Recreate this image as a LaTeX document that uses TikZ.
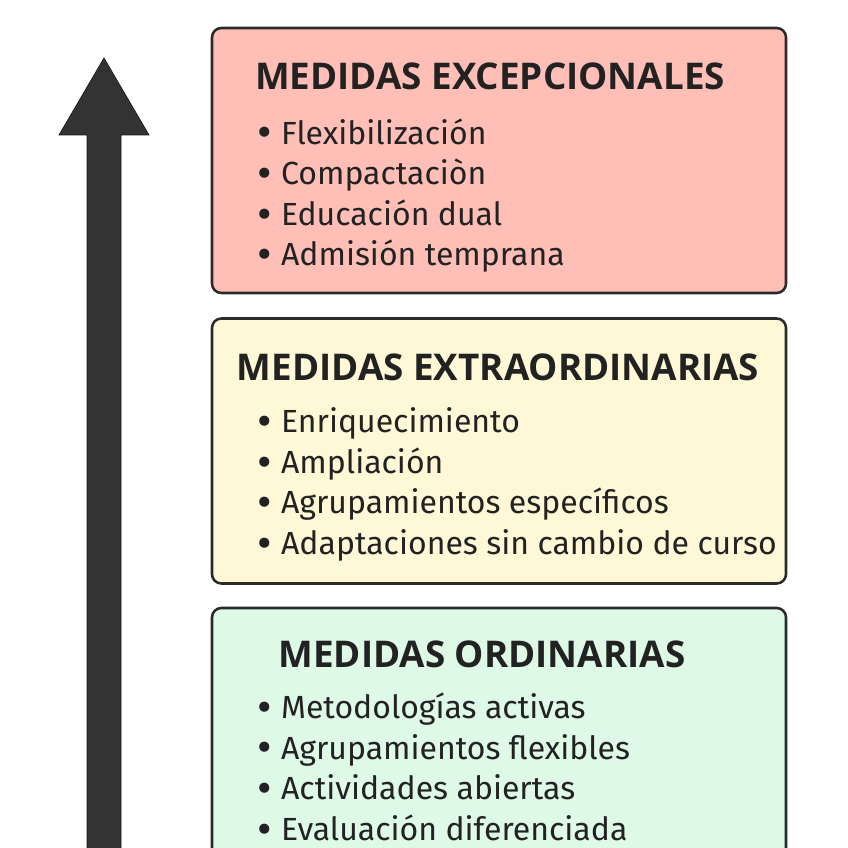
\documentclass[tikz,border=0pt]{standalone}
\usepackage{fontspec}
\setmainfont{Fira Sans}
\newfontfamily\headfont{Open Sans}
\usepackage{tikz}
\usetikzlibrary{positioning}

\definecolor{excfill}{HTML}{FFBFB6}
\definecolor{extfill}{HTML}{FFF8D6}
\definecolor{ordfill}{HTML}{DEF9E6}
\definecolor{edge}{HTML}{2A2A2A}
\definecolor{ink}{HTML}{222222}
\definecolor{shaft}{HTML}{333333}

\newcommand{\itm}{\raisebox{-0.12em}{\scalebox{1.4}{•}}\hspace{7pt}}

\begin{document}
\begin{tikzpicture}[
    x=0.75pt, y=-0.75pt,
    level/.style={
        rectangle, draw=edge, line width=1.9pt, rounded corners=7pt,
        minimum width=430.5pt, minimum height=198.75pt
    },
    title/.style={
        font=\headfont\fontsize{27.6}{32}\selectfont\bfseries, text=ink
    },
    items/.style={
        align=left, anchor=west, inner sep=0pt, text=ink,
        font=\fontsize{24}{30.4}\selectfont
    },
]
\useasboundingbox (0,0) rectangle (848,848);
\clip (0,0) rectangle (848,848);

%% Levels
\node[level, fill=excfill] (exc) at (499,160.5) {};
\node[level, fill=extfill] (ext) at (499,451) {};
\node[level, fill=ordfill] (ord) at (499,740.5) {};

%% Titles
\node[title] (exct) at (490,76) {MEDIDAS EXCEPCIONALES};
\node[title] (extt) at (498,367) {MEDIDAS EXTRAORDINARIAS};
\node[title] (ordt) at (482,654) {MEDIDAS ORDINARIAS};

%% Items
\node[items] (excl) at (257,195.5) {%
    \itm Flexibilización\\
    \itm Compactaciòn\\
    \itm Educación dual\\
    \itm Admisión temprana};
\node[items] (extl) at (257,484.5) {%
    \itm Enriquecimiento\\
    \itm Ampliación\\
    \itm Agrupamientos específicos\\
    \itm Adaptaciones sin cambio de curso};
\node[items] (ordl) at (257,768.5) {%
    \itm Metodologías activas\\
    \itm Agrupamientos flexibles\\
    \itm Actividades abiertas\\
    \itm Evaluación diferenciada};

%% Upward arrow
\filldraw[fill=shaft, draw=black!90, line width=0.5pt]
    (87,860) -- (87,135) -- (59,135) -- (104,58) -- (149,135)
    -- (121,135) -- (121,860) -- cycle;

\end{tikzpicture}
\end{document}
